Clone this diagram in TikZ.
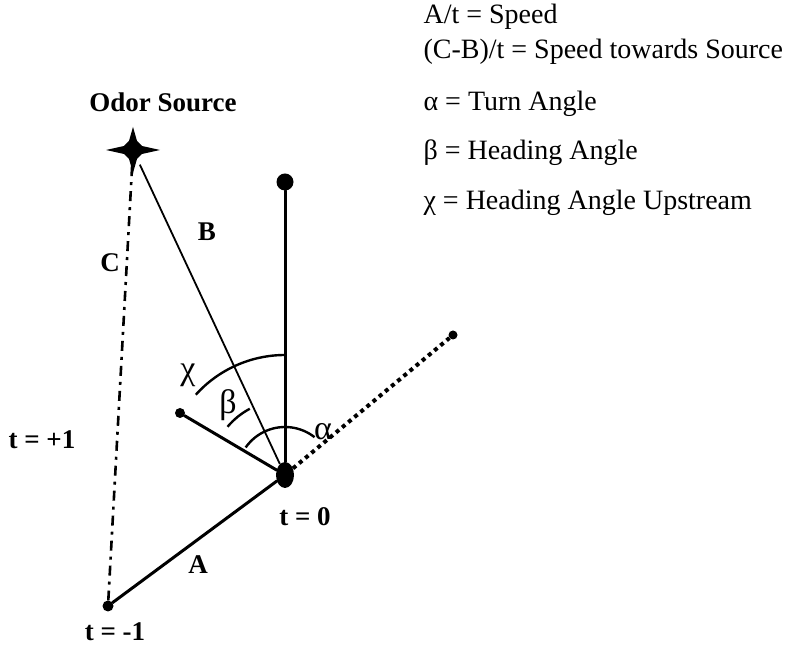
\documentclass[tikz,border=0pt]{standalone}
\usepackage{fontspec}
\setmainfont{Liberation Serif}
\usepackage{tikz}
\usetikzlibrary{shapes.geometric, positioning, calc}
\tikzset{
  dot/.style={circle, fill=black, inner sep=0pt},
  srcmark/.style={circle, inner sep=0pt, minimum size=32pt},
  lbl/.style={font=\fontsize{27}{30}\selectfont\bfseries},
  greek/.style={font=\fontsize{34}{36}\selectfont},
  key/.style={anchor=west, font=\fontsize{28}{30}\selectfont},
  track/.style={line width=3pt, line cap=round},
  angarc/.style={line width=2.4pt},
  thinline/.style={line width=1.8pt}
}
\begin{document}
\begin{tikzpicture}[x=1pt, y=1pt]
  \useasboundingbox (0,0) rectangle (785,648);

  % Odor source
  \node[srcmark] (src) at (133,498) {};
  \fill[shift={(src.center)}] (27,0) -- (9,4) -- (4,9) -- (0,23) -- (-4,9) -- (-9,4)
    -- (-27,0) -- (-9,-4) -- (-4,-9) -- (0,-23) -- (4,-9) -- (9,-4) -- cycle;
  \fill (src.center) circle (8);
  \node[lbl] (srclbl) at (163,546) {Odor Source};

  % Positions
  \node[dot, ellipse, minimum width=18pt, minimum height=26pt] (tz) at (285,173) {};
  \node[dot, minimum size=11pt] (tm) at (108,42) {};
  \node[dot, minimum size=17pt] (up) at (285,466) {};
  \node[dot, minimum size=10pt] (hd) at (180,235) {};
  \node[dot, minimum size=9pt] (fw) at (453,313) {};

  % Tracks
  \draw[track] (tm) -- (tz);
  \draw[track] (tz) -- (up);
  \draw[track] (tz) -- (hd);
  \draw[line width=4pt, dash pattern=on 4pt off 4pt] (tz) -- (fw);
  \draw[thinline] (src) -- (tz);
  \draw[line width=2.6pt, dash pattern=on 10pt off 6pt on 3pt off 6pt] (src) -- (tm);

  % Angles
  \draw[angarc] (tz.center) ++(90:120) arc[start angle=90, end angle=138, radius=120];
  \draw[angarc] (tz.center) ++(52:48) arc[start angle=52, end angle=145, radius=48];
  \draw[angarc] (tz.center) ++(118:75) arc[start angle=118, end angle=140, radius=75];

  % Labels
  \node[lbl] at (207,416) {B};
  \node[lbl] at (110,385) {C};
  \node[lbl] at (198,83) {A};
  \node[lbl] at (305,131) {t = 0};
  \node[lbl] at (115,16) {t = -1};
  \node[lbl] at (42,208) {t = +1};
  \node[greek] at (188,273) {χ};
  \node[greek] at (228,243) {β};
  \node[greek] at (323,216) {α};

  % Legend
  \node[key] (k1) at (420,631) {A/t = Speed};
  \node[key] (k2) at (420,596) {(C-B)/t = Speed towards Source};
  \node[key] (k3) at (420,544) {α = Turn Angle};
  \node[key] (k4) at (420,495) {β = Heading Angle};
  \node[key] (k5) at (420,445) {χ = Heading Angle Upstream};
\end{tikzpicture}
\end{document}
